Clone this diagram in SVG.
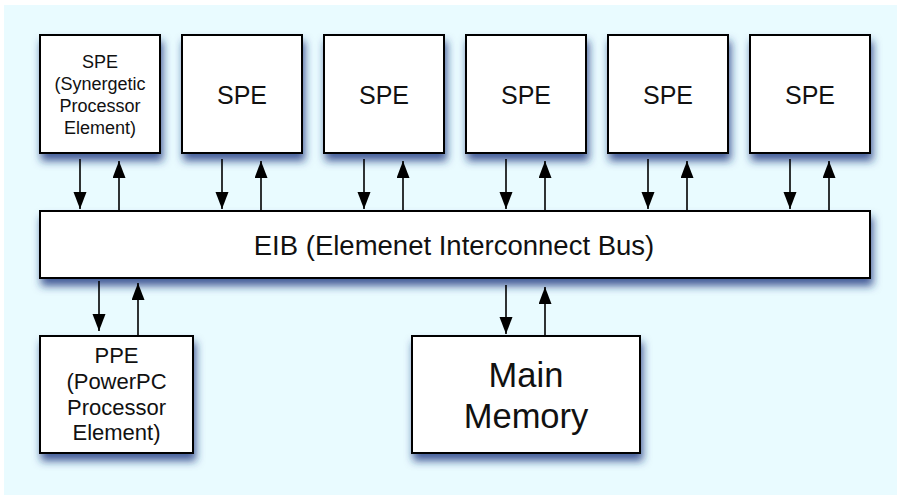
<svg xmlns="http://www.w3.org/2000/svg" width="897" height="495" viewBox="0 0 897 495">
  <style>
    .box { fill: #ffffff; stroke: #000000; stroke-width: 2; filter: url(#shadow); }
    .lbl { font-family: "Liberation Sans", Arial, Helvetica, sans-serif; fill: #111111; text-anchor: middle; }
    .link { stroke: #000000; stroke-width: 1.6; fill: none; marker-end: url(#head); }
  </style>
  <defs>
    <filter id="shadow" x="-20%" y="-20%" width="150%" height="160%">
      <feGaussianBlur in="SourceAlpha" stdDeviation="4.5"/>
      <feOffset dx="2" dy="7" result="off"/>
      <feFlood flood-color="#1c357f" flood-opacity="0.8"/>
      <feComposite in2="off" operator="in" result="sh"/>
      <feMerge>
        <feMergeNode in="sh"/>
        <feMergeNode in="SourceGraphic"/>
      </feMerge>
    </filter>
    <marker id="head" markerUnits="userSpaceOnUse" markerWidth="18" markerHeight="14" refX="17" refY="6.5" orient="auto">
      <path d="M0,0 L17,6.5 L0,13 z" fill="#000000"/>
    </marker>
  </defs>

  <!-- backdrop -->
  <rect x="0" y="0" width="897" height="495" fill="#ffffff"/>
  <rect x="4" y="5" width="893" height="490" fill="#e9fbff"/>

  <!-- SPE row -->
  <g id="spe1">
    <rect class="box" x="40" y="35" width="120" height="118"/>
    <text class="lbl" font-size="18" x="100" y="68">SPE</text>
    <text class="lbl" font-size="18" x="100" y="90">(Synergetic</text>
    <text class="lbl" font-size="18" x="100" y="112">Processor</text>
    <text class="lbl" font-size="18" x="100" y="134">Element)</text>
  </g>
  <g id="spe2">
    <rect class="box" x="182" y="35" width="120" height="118"/>
    <text class="lbl" font-size="25" x="242" y="104">SPE</text>
  </g>
  <g id="spe3">
    <rect class="box" x="324" y="35" width="120" height="118"/>
    <text class="lbl" font-size="25" x="384" y="104">SPE</text>
  </g>
  <g id="spe4">
    <rect class="box" x="466" y="35" width="120" height="118"/>
    <text class="lbl" font-size="25" x="526" y="104">SPE</text>
  </g>
  <g id="spe5">
    <rect class="box" x="608" y="35" width="120" height="118"/>
    <text class="lbl" font-size="25" x="668" y="104">SPE</text>
  </g>
  <g id="spe6">
    <rect class="box" x="750" y="35" width="120" height="118"/>
    <text class="lbl" font-size="25" x="810" y="104">SPE</text>
  </g>

  <!-- bus -->
  <g id="eib">
    <rect class="box" x="40" y="211" width="830" height="67"/>
    <text class="lbl" font-size="27.5" x="454" y="255">EIB (Elemenet Interconnect Bus)</text>
  </g>

  <!-- lower row -->
  <g id="ppe">
    <rect class="box" x="40" y="336" width="153" height="117"/>
    <text class="lbl" font-size="22" x="116.5" y="363">PPE</text>
    <text class="lbl" font-size="22" x="116.5" y="389">(PowerPC</text>
    <text class="lbl" font-size="22" x="116.5" y="415">Processor</text>
    <text class="lbl" font-size="22" x="116.5" y="440">Element)</text>
  </g>
  <g id="memory">
    <rect class="box" x="412" y="336" width="228" height="117"/>
    <text class="lbl" font-size="34.5" x="526" y="387">Main</text>
    <text class="lbl" font-size="34.5" x="526" y="428">Memory</text>
  </g>

  <!-- connectors -->
  <g id="connectors">
    <line class="link" x1="80" y1="159" x2="80" y2="209"/>
    <line class="link" x1="119" y1="211" x2="119" y2="161"/>
    <line class="link" x1="222" y1="159" x2="222" y2="209"/>
    <line class="link" x1="261" y1="211" x2="261" y2="161"/>
    <line class="link" x1="364" y1="159" x2="364" y2="209"/>
    <line class="link" x1="403" y1="211" x2="403" y2="161"/>
    <line class="link" x1="506" y1="159" x2="506" y2="209"/>
    <line class="link" x1="545" y1="211" x2="545" y2="161"/>
    <line class="link" x1="648" y1="159" x2="648" y2="209"/>
    <line class="link" x1="687" y1="211" x2="687" y2="161"/>
    <line class="link" x1="790" y1="159" x2="790" y2="209"/>
    <line class="link" x1="829" y1="211" x2="829" y2="161"/>
    <line class="link" x1="99" y1="281" x2="99" y2="331"/>
    <line class="link" x1="138" y1="335" x2="138" y2="283"/>
    <line class="link" x1="506" y1="285" x2="506" y2="334"/>
    <line class="link" x1="545" y1="335" x2="545" y2="287"/>
  </g>
</svg>
